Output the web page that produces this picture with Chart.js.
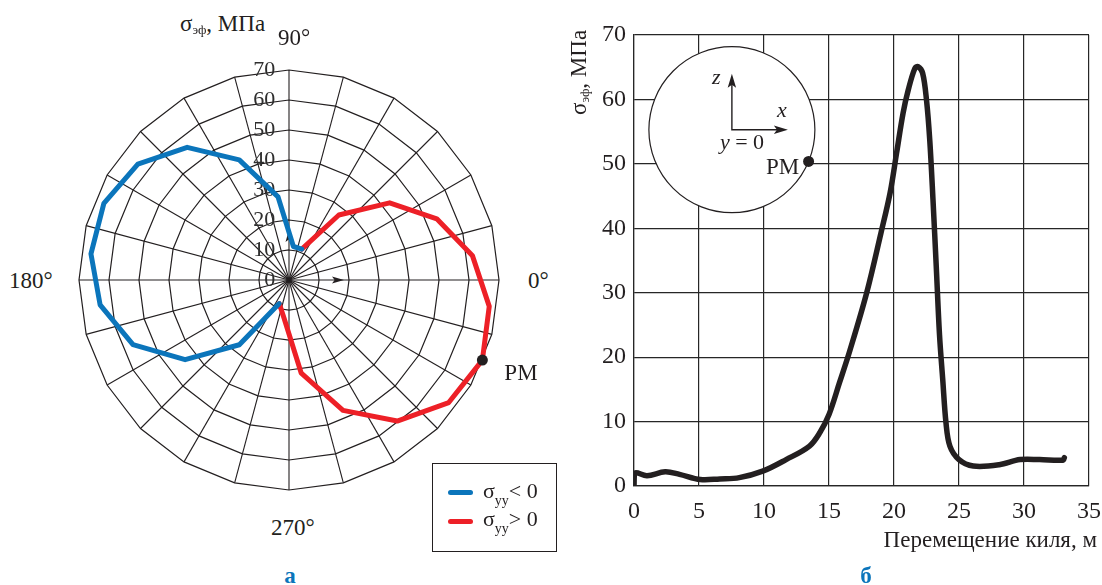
<!DOCTYPE html>
<html lang="ru">
<head>
<meta charset="utf-8">
<title>σэф — полярная диаграмма и перемещение киля</title>
<script src="https://cdn.jsdelivr.net/npm/chart.js@4.4.1/dist/chart.umd.min.js"></script>
<style>
  html, body { margin: 0; padding: 0; background: #fff; }
  #fig { position: relative; width: 1102px; height: 585px; overflow: hidden; background: #fff;
         font-family: "Liberation Serif", "Times New Roman", Times, serif; color: #231f20; }
  #fig canvas { position: absolute; }
  #polar { left: 54px; top: 45px; }
  #trace { left: 560px; top: 0; }
  .lbl { position: absolute; white-space: nowrap; line-height: 1; }
  .lbl .sub { position: relative; }
  .tag { color: #0b75bb; font-weight: bold; }
  #key { position: absolute; left: 432px; top: 463px; width: 125px; height: 89px;
         box-sizing: border-box; border: 1px solid #231f20; }
  #key .sw { position: absolute; left: 15px; width: 25px; height: 5px; border-radius: 3px; }
</style>
</head>
<body>
<div id="fig">
  <canvas id="polar" width="470" height="470"></canvas>
  <canvas id="trace" width="542" height="585"></canvas>
  <div id="key"></div>
</div>
<script>
(function () {
  "use strict";

  /* Polar panel: spokes every 15°, curve vertices sit halfway between spokes */
  const spokeAngles = [90, 75, 60, 45, 30, 15, 0, 345, 330, 315, 300, 285, 270, 255, 240, 225, 210, 195, 180, 165, 150, 135, 120, 105];
  const vertexAngles = [82.5, 67.5, 52.5, 37.5, 22.5, 7.5, 352.5, 337.5, 322.5, 307.5, 292.5, 277.5,
                        262.5, 247.5, 232.5, 217.5, 202.5, 187.5, 172.5, 157.5, 142.5, 127.5, 112.5, 97.5];
  const radialTicks = [0, 10, 20, 30, 40, 50, 60, 70];

  const blueAngles = [247.5, 232.5, 217.5, 202.5, 187.5, 172.5, 157.5, 142.5, 127.5, 112.5, 97.5, 82.5, 67.5];
  const blueValues = [8, 25.6, 41.1, 53.0, 59.8, 62.7, 62.9, 59.8, 52.5, 40.8, 26.3, 10.6, 10.5];
  const redAngles = [67.5, 52.5, 37.5, 22.5, 7.5, 352.5, 337.5, 322.5, 307.5, 292.5, 277.5, 262.5, 247.5];
  const redValues = [10.5, 25.7, 39.8, 50.2, 58.1, 63.4, 65.7, 63.2, 55.8, 44.3, 29.5, 12, 8];
  const pmAngle = 337.5;

  /* Keel travel trace */
  const travel = [0, 0.05, 1.0, 2.4, 3.5, 5.1, 6.6, 8.1, 9.9, 11.7, 13.5, 14.3, 15.0, 15.8, 16.6, 17.9, 19.0, 19.7,
                  20.2, 20.7, 21.1, 21.6, 21.85, 22.2, 22.5, 22.75, 23.0, 23.25, 23.5, 23.75, 24.0, 24.3, 25.0,
                  26.1, 28.1, 29.7, 31.2, 33.0, 33.1];
  const stress = [0, 2.0, 1.6, 2.2, 1.8, 1.0, 1.1, 1.3, 2.3, 4.1, 6.2, 8.3, 11.1, 16.0, 21.0, 30.0, 39.3, 45.5,
                  51.7, 57.9, 61.5, 64.8, 65.1, 64.1, 59.9, 53.7, 44.4, 34.1, 23.5, 16.5, 9.8, 6.2, 4.1,
                  3.1, 3.3, 4.1, 4.1, 4.0, 4.4];
  const travelTicks = [0, 5, 10, 15, 20, 25, 30, 35];
  const stressTicks = [0, 10, 20, 30, 40, 50, 60, 70];

  const INK = "#231f20", BLUE = "#0b75bb", RED = "#ed2027";
  const SERIF = '"Liberation Serif", "Times New Roman", Times, serif';
  const fig = document.getElementById("fig");

  // absolutely placed text, positioned by its baseline
  function label(html, x, base, size, extra) {
    const d = document.createElement("div");
    d.className = "lbl";
    d.innerHTML = html;
    d.style.left = x + "px";
    d.style.top = (base - 0.8375 * size) + "px";
    d.style.fontSize = size + "px";
    if (extra) Object.assign(d.style, extra);
    fig.appendChild(d);
    return d;
  }
  const sub = (t, size, drop) => `<span class="sub" style="font-size:${size}px;top:${drop}px">${t}</span>`;

  function arrowHead(c, x, y, dx, dy, len, half) {
    const bx = x - dx * len, by = y - dy * len;
    c.beginPath();
    c.moveTo(x, y);
    c.lineTo(bx - dy * half, by + dx * half);
    c.lineTo(x - dx * len * 0.78, y - dy * len * 0.78);
    c.lineTo(bx + dy * half, by - dx * half);
    c.closePath();
    c.fill();
  }

  /* ---------- polar diagram ---------- */
  const onVertices = (angles, values) =>
    vertexAngles.map((a) => { const k = angles.indexOf(a); return k < 0 ? null : values[k]; });

  const polarArrows = {
    id: "polarArrows",
    beforeDatasetsDraw(chart) {
      const s = chart.scales.r, c = chart.ctx;
      c.save();
      c.fillStyle = INK;
      arrowHead(c, s.xCenter, s.yCenter - 50, 0, -1, 12, 3.5);
      arrowHead(c, s.xCenter + 55, s.yCenter, 1, 0, 12, 3.5);
      c.restore();
    },
  };

  const polar = new Chart(document.getElementById("polar"), {
    type: "radar",
    data: {
      labels: spokeAngles,
      datasets: [
        { label: "σyy < 0", data: onVertices(blueAngles, blueValues), borderColor: BLUE, rAxisID: "rd", pointRadius: 0 },
        { label: "σyy > 0", data: onVertices(redAngles, redValues), borderColor: RED, rAxisID: "rd",
          pointRadius: (ctx) => (vertexAngles[ctx.dataIndex] === pmAngle ? 5.5 : 0),
          pointBackgroundColor: INK, pointBorderWidth: 0 },
      ],
    },
    options: {
      responsive: false, animation: false, events: [],
      layout: { padding: 12 },
      elements: { line: { borderWidth: 5, fill: false, tension: 0, borderJoinStyle: "round", borderCapStyle: "round" } },
      plugins: { legend: { display: false }, tooltip: { enabled: false } },
      scales: {
        r: {
          min: -0.01, max: 70, startAngle: 0, labels: spokeAngles,
          grid: { circular: false, color: INK, lineWidth: 1.2 },
          angleLines: { color: INK, lineWidth: 1.1 },
          pointLabels: { display: false },
          afterBuildTicks: (s) => { s.ticks = radialTicks.map((v) => ({ value: v })); },
          ticks: {
            showLabelBackdrop: false, color: "#2e2e2e", font: { family: SERIF, size: 22 },
            callback: (v) => (v < 10 ? "\u2007" : "") + v + " ".repeat(9),
          },
        },
        rd: {
          type: "radialLinear", axis: "r", min: -0.01, max: 70, startAngle: 7.5, labels: vertexAngles,
          grid: { display: false }, angleLines: { display: false },
          pointLabels: { display: false }, ticks: { display: false },
        },
      },
    },
    plugins: [polarArrows],
  });

  label(`σ${sub("эф", 13, 3)}, МПа`, 180, 31, 23);
  label("90°", 278, 45, 23);
  label("0°", 528, 288, 23);
  label("180°", 9, 288, 23);
  label("270°", 271, 535, 23);
  label("а", 290, 583, 23, { transform: "translateX(-50%)" }).classList.add("tag");

  const pm = polar.getDatasetMeta(1).data[vertexAngles.indexOf(pmAngle)];
  label("РМ", 54 + pm.x + 22, 45 + pm.y + 20, 23);

  const key = document.getElementById("key");
  const keySigns = ["&lt;", "&gt;"];
  polar.data.datasets.forEach((ds, i) => {
    const sw = document.createElement("span");
    sw.className = "sw";
    sw.style.top = (26.2 + i * 28.3) + "px";
    sw.style.background = ds.borderColor;
    key.appendChild(sw);
    const t = document.createElement("div");
    t.className = "lbl";
    t.style.cssText = `left:50px;top:${15.6 + i * 28}px;font-size:22px`;
    t.innerHTML = `σ${sub("yy", 14, 7)}${keySigns[i]} 0`;
    key.appendChild(t);
  });

  /* ---------- keel travel trace ---------- */
  const insetAt = { x: 7.53, y: 55.3 };
  const insetR = 83;
  const inset = {
    id: "inset",
    beforeDatasetsDraw(chart) {
      const c = chart.ctx;
      const cx = chart.scales.x.getPixelForValue(insetAt.x), cy = chart.scales.y.getPixelForValue(insetAt.y);
      c.save();
      c.beginPath();
      c.arc(cx, cy, insetR, 0, Math.PI * 2);
      c.fillStyle = "#fff";
      c.fill();
      c.lineWidth = 1.2;
      c.strokeStyle = INK;
      c.stroke();
      c.lineWidth = 1.4;
      c.beginPath();
      c.moveTo(cx, cy - 46); c.lineTo(cx, cy); c.lineTo(cx + 46, cy);
      c.stroke();
      c.fillStyle = INK;
      arrowHead(c, cx, cy - 56, 0, -1, 14, 4.2);
      arrowHead(c, cx + 56, cy, 1, 0, 14, 4.2);
      const a = 22.5 * Math.PI / 180;
      c.beginPath();
      c.arc(cx + insetR * Math.cos(a), cy + insetR * Math.sin(a), 5.5, 0, Math.PI * 2);
      c.fill();
      c.restore();
    },
  };

  const tickFont = { family: SERIF, size: 24 };
  const GRID = "#262626";
  const trace = new Chart(document.getElementById("trace"), {
    type: "line",
    data: {
      datasets: [{
        data: travel.map((x, i) => ({ x, y: stress[i] })),
        borderColor: INK, borderWidth: 5.5, tension: 0.35, pointRadius: 0,
        borderCapStyle: "round", borderJoinStyle: "round", fill: false,
      }],
    },
    options: {
      responsive: false, animation: false, events: [],
      layout: { padding: { left: 0, right: 13, top: 35, bottom: 59 } },
      plugins: { legend: { display: false }, tooltip: { enabled: false } },
      scales: {
        x: {
          type: "linear", min: 0, max: 35,
          afterBuildTicks: (s) => { s.ticks = travelTicks.map((v) => ({ value: v })); },
          afterFit: (s) => { s.height = 40; s.paddingLeft = 0; s.paddingRight = 0; },
          grid: { color: GRID, lineWidth: 1.2, drawTicks: false },
          border: { color: GRID, width: 1.2 },
          ticks: { font: tickFont, color: INK, padding: 11, maxRotation: 0, autoSkip: false },
        },
        y: {
          type: "linear", min: 0, max: 70,
          afterBuildTicks: (s) => { s.ticks = stressTicks.map((v) => ({ value: v })); },
          afterFit: (s) => { s.width = 74; s.paddingTop = 0; s.paddingBottom = 0; },
          grid: { color: GRID, lineWidth: 1.2, drawTicks: false },
          border: { color: GRID, width: 1.2 },
          ticks: { font: tickFont, color: INK, padding: 8, autoSkip: false },
        },
      },
    },
    plugins: [inset],
  });

  const icx = 560 + trace.scales.x.getPixelForValue(insetAt.x);
  const icy = trace.scales.y.getPixelForValue(insetAt.y);
  label("z", icx - 20, icy - 45, 22, { fontStyle: "italic" });
  label("x", icx + 45, icy - 12, 22, { fontStyle: "italic" });
  label("<i>y</i> = 0", icx - 12, icy + 20, 22);
  label("РМ", icx + 34, icy + 45, 23);

  label(`σ${sub("эф", 13, 3)}, МПа`, 586 - 0.8375 * 23, 115 + 0.8375 * 23, 23,
        { transform: "rotate(-90deg)", transformOrigin: "0 0", top: "115px" });
  label("Перемещение киля, м", 1097, 547, 23, { transform: "translateX(-100%)" });
  label("б", 866, 583, 23, { transform: "translateX(-50%)" }).classList.add("tag");
})();
</script>
</body>
</html>
